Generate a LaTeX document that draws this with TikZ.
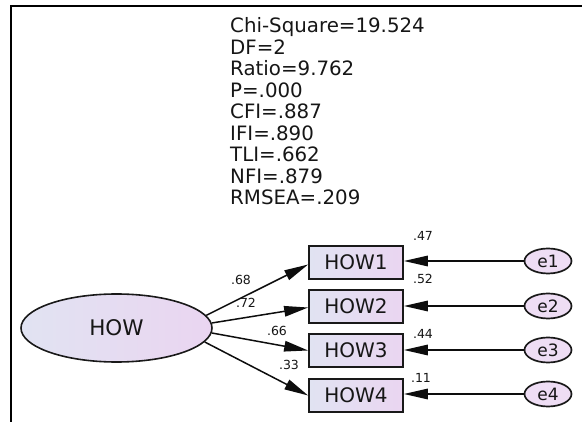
\documentclass[tikz,border=0pt]{standalone}
\usepackage{fontspec}
\setmainfont{DejaVu Sans}
\usetikzlibrary{arrows.meta,shapes.geometric}
\definecolor{txt}{HTML}{161616}
\definecolor{fillL}{HTML}{E1E3F2}
\definecolor{fillR}{HTML}{EAD5F1}
\tikzset{
  statline/.style={anchor=base west,inner sep=0pt,text=txt,font=\fontsize{19.8}{21}\selectfont},
  latent/.style={ellipse,draw=black!90,line width=1.6pt,minimum width=191pt,minimum height=68pt,inner sep=0pt,left color=fillL,right color=fillR,text=txt,font=\fontsize{21.5}{24}\selectfont},
  observed/.style={rectangle,draw=black!90,line width=1.7pt,minimum width=94pt,minimum height=33pt,inner sep=0pt,left color=fillL,right color=fillR,text=txt,font=\fontsize{20}{22}\selectfont},
  errnode/.style={ellipse,draw=black!90,line width=1.7pt,minimum width=47pt,minimum height=25pt,inner sep=0pt,fill=fillR!80!white,text=txt,font=\fontsize{17}{19}\selectfont},
  arr/.style={line width=1.5pt,draw=black!95,-{Triangle[length=24pt,width=10.5pt]}},
  coef/.style={inner sep=0pt,text=txt,font=\fontsize{12.5}{14}\selectfont},
}
\begin{document}
\begin{tikzpicture}[x=1pt,y=-1pt]
\useasboundingbox (0,0) rectangle (582,422);
% frame
\draw[line width=2pt,black] (582,6) -- (11,6) -- (11,422);
% fit statistics
\node[statline] (s1) at (230,33) {Chi-Square=19.524};
\node[statline] (s2) at (230,54.5) {DF=2};
\node[statline] (s3) at (230,76) {Ratio=9.762};
\node[statline] (s4) at (230,97.5) {P=.000};
\node[statline] (s5) at (230,119) {CFI=.887};
\node[statline] (s6) at (230,140.5) {IFI=.890};
\node[statline] (s7) at (230,162) {TLI=.662};
\node[statline] (s8) at (230,183.5) {NFI=.879};
\node[statline] (s9) at (230,205) {RMSEA=.209};
% nodes
\node[latent] (HOW) at (116.5,328) {HOW};
\node[observed] (b1) at (356,262.5) {HOW1};
\node[observed] (b2) at (356,306.5) {HOW2};
\node[observed] (b3) at (356,350.5) {HOW3};
\node[observed] (b4) at (356,395.5) {HOW4};
\node[errnode] (e1) at (548,261) {e1};
\node[errnode] (e2) at (548,306) {e2};
\node[errnode] (e3) at (548,350) {e3};
\node[errnode] (e4) at (548,394) {e4};
% paths
\draw[arr] (HOW.8) -- ([yshift=-2pt]b1.west);
\draw[arr] (HOW.3) -- ([yshift=-1pt]b2.west);
\draw[arr] (HOW.-3) -- (b3.west);
\draw[arr] (HOW.-9) -- (b4.west);
\draw[arr] (e1) -- (e1 -| b1.east);
\draw[arr] (e2) -- (e2 -| b2.east);
\draw[arr] (e3) -- (e3 -| b3.east);
\draw[arr] (e4) -- (e4 -| b4.east);
% coefficients
\node[coef] (c1) at (241,279.5) {.68};
\node[coef] (c2) at (246,303) {.72};
\node[coef] (c3) at (277,331) {.66};
\node[coef] (c4) at (289,365) {.33};
\node[coef] (r1) at (423,236) {.47};
\node[coef] (r2) at (423,279) {.52};
\node[coef] (r3) at (423,334) {.44};
\node[coef] (r4) at (421,378) {.11};
\end{tikzpicture}
\end{document}
